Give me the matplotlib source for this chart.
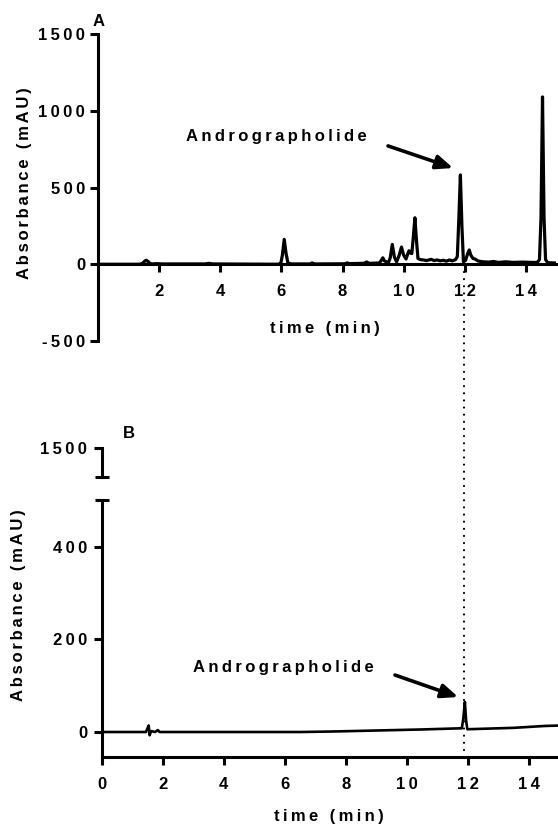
import matplotlib
matplotlib.use("Agg")
import matplotlib.pyplot as plt
from matplotlib.lines import Line2D
from matplotlib.transforms import blended_transform_factory

# ---------------- data ----------------
time_a = [0.0, 1.35, 1.45, 1.52, 1.57, 1.63, 1.70, 1.78, 1.90, 2.10, 3.50, 3.62, 3.75,
          5.90, 5.98, 6.03, 6.09, 6.15, 6.21, 6.30, 6.95, 7.00, 7.08, 8.10, 8.15, 8.22,
          8.70, 8.79, 8.87, 9.20, 9.27, 9.32, 9.37, 9.50, 9.56, 9.63, 9.70, 9.77, 9.85,
          9.93, 10.00, 10.08, 10.14, 10.18, 10.23, 10.27, 10.32, 10.37, 10.42, 10.47,
          10.55, 10.65, 10.75, 10.90, 11.00, 11.10, 11.20, 11.30, 11.40, 11.50, 11.60,
          11.70, 11.76, 11.81, 11.86, 11.91, 11.96, 12.03, 12.10, 12.15, 12.20, 12.27,
          12.34, 12.44, 12.60, 12.80, 12.95, 13.10, 13.35, 13.60, 13.90, 14.20, 14.38,
          14.45, 14.50, 14.55, 14.60, 14.65, 14.72, 15.00]
abs_a = [0, 0, 6, 20, 26, 18, 4, 2, 4, 2, 2, 6, 2,
         0, 8, 60, 162, 70, 10, 2, 2, 9, 2, 3, 9, 4,
         6, 15, 6, 8, 25, 42, 22, 10, 40, 129, 45, 16, 55,
         112, 60, 34, 70, 88, 72, 70, 180, 303, 160, 38,
         30, 28, 24, 32, 24, 28, 22, 26, 20, 28, 22,
         30, 50, 300, 582, 250, 16, 25, 70, 93, 60, 38,
         34, 21, 16, 14, 18, 12, 16, 12, 14, 12, 12,
         30, 300, 1090, 300, 30, 10, 8]

time_b = [0.0, 1.45, 1.50, 1.54, 1.57, 1.62, 1.75, 1.84, 1.90, 6.5, 7.5, 8.5, 9.5,
          10.5, 11.5, 11.80, 11.85, 11.90, 11.94, 11.98, 12.5, 13.0, 13.5, 14.0, 14.5, 15.0]
abs_b = [0, 0, 8, 14, -7, 2, 0, 4, 0, 0, 1, 2.5, 4,
         5.5, 7.5, 8, 30, 65, 25, 6, 7, 8, 9, 11, 13, 14]

xticks_a = [2, 4, 6, 8, 10, 12, 14]
yticks_a = [-500, 0, 500, 1000, 1500]
xticks_b = [0, 2, 4, 6, 8, 10, 12, 14]
yticks_b = [0, 200, 400]
ytick_b_top = [1500]
peak_time = 11.88

# ---------------- style ----------------
FAM = ['Liberation Sans', 'DejaVu Sans']
plt.rcParams['font.family'] = FAM
plt.rcParams['font.weight'] = 'bold'

W, H = 558, 831


def sp(s, gap='\u2009'):
    return gap.join(s)


def box(l, t, r, b):
    return [l / W, 1 - b / H, (r - l) / W, (b - t) / H]


LW_AX = 2.2
FS = 12
ARROW = dict(arrowstyle='-|>,head_length=1.0,head_width=0.42',
             lw=2.6, color='black', shrinkA=0, shrinkB=0)

fig = plt.figure(figsize=(W / 100, H / 100), dpi=100)

# ---------------- panel A ----------------
axA = fig.add_axes(box(98.3, 34, 98.3 + 15 * 30.53, 341))
axA.set_xlim(0, 15)
axA.set_ylim(-500, 1500)
axA.patch.set_visible(False)
for s in ('top', 'right'):
    axA.spines[s].set_visible(False)
axA.spines['bottom'].set_position(('data', 0))
for s in ('left', 'bottom'):
    axA.spines[s].set_linewidth(LW_AX)
axA.plot(time_a, abs_a, color='black', lw=2.3, solid_joinstyle='round', zorder=3)
axA.set_xticks(xticks_a, labels=[sp(str(v)) for v in xticks_a])
axA.set_yticks(yticks_a, labels=[sp(str(v)) for v in yticks_a])
axA.tick_params(axis='both', direction='out', length=5.5, width=LW_AX, labelsize=FS)
axA.tick_params(axis='x', pad=9)
axA.tick_params(axis='y', pad=4)
axA.annotate('', xy=(11.62, 627), xytext=(9.49, 771), arrowprops=ARROW)
axA.text(5.84, 829, sp('Andrographolide'), ha='center', va='center',
         fontsize=FS, fontweight='bold')

# ---------------- panel B ----------------
axB = fig.add_axes(box(101.7, 500.4, 101.7 + 15 * 30.52, 756.7))
axB.set_xlim(0, 15)
axB.set_ylim(-53.3, 500)
axB.patch.set_visible(False)
for s in ('top', 'right'):
    axB.spines[s].set_visible(False)
for s in ('left', 'bottom'):
    axB.spines[s].set_linewidth(LW_AX)
axB.plot(time_b, abs_b, color='black', lw=1.9, solid_joinstyle='round', zorder=3)
axB.set_xticks(xticks_b, labels=[sp(str(v)) for v in xticks_b])
axB.set_yticks(yticks_b, labels=[sp(str(v)) for v in yticks_b])
axB.tick_params(axis='both', direction='out', length=5.5, width=LW_AX, labelsize=FS)
axB.tick_params(axis='x', pad=9)
axB.tick_params(axis='y', pad=5)
axB.plot([0], [500], marker='_', ms=10.5, mew=LW_AX, color='black', clip_on=False, zorder=5)
axB.annotate('', xy=(11.68, 75.5), xytext=(9.61, 123), arrowprops=ARROW)
axB.text(5.94, 140, sp('Andrographolide'), ha='center', va='center',
         fontsize=FS, fontweight='bold')

# top segment of broken axis
axBt = fig.add_axes(box(101.7, 448, 101.7 + 15 * 30.52, 477))
axBt.set_xlim(0, 15)
axBt.set_ylim(1400, 1500)
axBt.patch.set_visible(False)
for s in ('top', 'right', 'bottom'):
    axBt.spines[s].set_visible(False)
axBt.spines['left'].set_linewidth(LW_AX)
axBt.set_xticks([])
axBt.set_yticks(ytick_b_top, labels=[sp(str(v)) for v in ytick_b_top])
axBt.tick_params(axis='y', direction='out', length=5.5, width=LW_AX, labelsize=FS, pad=5)
axBt.plot([0], [1400], marker='_', ms=10, mew=LW_AX, color='black', clip_on=False, zorder=5)

# ---------------- labels ----------------
ylab = sp('Absorbance (mAU)', '\u2006')
fig.text(93 / W, 1 - 21 / H, 'A', ha='left', va='center', fontsize=12, fontweight='bold')
fig.text(123 / W, 1 - 433 / H, 'B', ha='left', va='center', fontsize=12, fontweight='bold')
fig.text(25 / W, 1 - 183 / H, ylab, rotation=90, ha='center', va='center',
         fontsize=FS, fontweight='bold')
fig.text(19 / W, 1 - 605 / H, ylab, rotation=90, ha='center', va='center',
         fontsize=FS, fontweight='bold')
fig.text(325 / W, 1 - 329 / H, sp('time (min)'), ha='center', va='center',
         fontsize=FS, fontweight='bold')
fig.text(329 / W, 1 - 817 / H, sp('time (min)'), ha='center', va='center',
         fontsize=FS, fontweight='bold')

# dotted guide line linking the peaks
trans = blended_transform_factory(axB.transData, fig.transFigure)
fig.add_artist(Line2D([peak_time, peak_time], [1 - 272 / H, 1 - 752 / H], transform=trans,
                      color='black', lw=1.6, linestyle=(0, (0.01, 3.2)),
                      dash_capstyle='round'))

fig.savefig('out.png', dpi=100)
